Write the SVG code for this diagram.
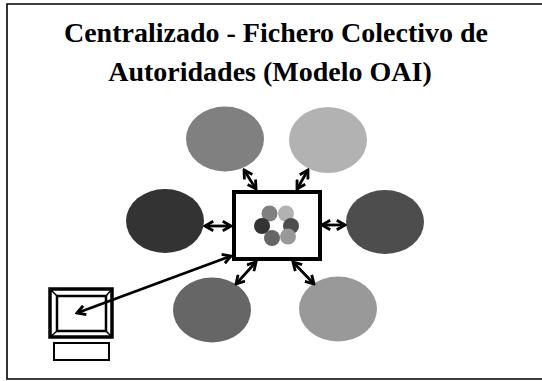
<svg xmlns="http://www.w3.org/2000/svg" width="542" height="381" viewBox="0 0 542 381">
<style>
.title{font-family:'Liberation Serif',Tinos,'Times New Roman',Times,serif;font-weight:700;font-size:28px;fill:#000;text-anchor:middle}
.conn{stroke:#000;stroke-width:2.8;fill:none;marker-start:url(#head);marker-end:url(#head)}
.frame{stroke:#000;stroke-width:1.6;fill:none}
.box{stroke:#000;stroke-width:4;fill:#fff}
.mon{stroke:#000;fill:none}
</style>
<defs>
<marker id="head" viewBox="0 0 10 10" refX="8.5" refY="5" markerWidth="4.2" markerHeight="4.2" orient="auto-start-reverse" markerUnits="strokeWidth">
<path d="M1.5,1 L8.5,5 L1.5,9" fill="none" stroke="#000" stroke-width="2.4" stroke-linejoin="miter"/>
</marker>
</defs>
<rect width="542" height="381" fill="#fff"/>
<path class="frame" d="M542,4 H7 V379 H542"/>
<text class="title" x="276" y="42">Centralizado - Fichero Colectivo de</text>
<text class="title" x="270" y="81">Autoridades (Modelo OAI)</text>
<g id="node-top-left"><ellipse cx="225" cy="139" rx="39" ry="32.5" fill="#808080"/></g>
<g id="node-top-right"><ellipse cx="328" cy="140" rx="39" ry="33" fill="#b2b2b2"/></g>
<g id="node-left"><ellipse cx="165" cy="221" rx="39" ry="32" fill="#333333"/></g>
<g id="node-right"><ellipse cx="385" cy="222" rx="39" ry="32" fill="#4d4d4d"/></g>
<g id="node-bottom-left"><ellipse cx="212" cy="310" rx="39" ry="32.5" fill="#666666"/></g>
<g id="node-bottom-right"><ellipse cx="338" cy="309" rx="39" ry="32.5" fill="#999999"/></g>
<g id="node-center">
<rect class="box" x="234" y="192" width="86" height="67"/>
<circle cx="269.5" cy="213.5" r="8" fill="#808080"/>
<circle cx="286" cy="213.5" r="8" fill="#b2b2b2"/>
<circle cx="262" cy="226" r="8" fill="#333333"/>
<circle cx="291" cy="226" r="8" fill="#4d4d4d"/>
<circle cx="272" cy="238" r="8" fill="#666666"/>
<circle cx="288" cy="236.5" r="8" fill="#999999"/>
</g>
<g id="node-computer">
<rect class="mon" x="50" y="289" width="62" height="48" stroke-width="3.5"/>
<rect class="mon" x="57" y="296" width="49" height="35" stroke-width="2.5"/>
<path class="mon" stroke-width="1.5" d="M50,289 L57,296 M112,289 L106,296 M50,337 L57,331 M112,337 L106,331"/>
<rect class="mon" x="54" y="343" width="55" height="17" stroke-width="2"/>
</g>
<g id="connectors">
<line class="conn" x1="244" y1="170" x2="256" y2="189"/>
<line class="conn" x1="308" y1="170" x2="297" y2="189"/>
<line class="conn" x1="205" y1="226" x2="231" y2="226"/>
<line class="conn" x1="322" y1="225" x2="345" y2="225"/>
<line class="conn" x1="256" y1="262" x2="236" y2="284"/>
<line class="conn" x1="293" y1="262" x2="314" y2="284"/>
<line class="conn" x1="231" y1="256" x2="77" y2="313"/>
</g>
</svg>
